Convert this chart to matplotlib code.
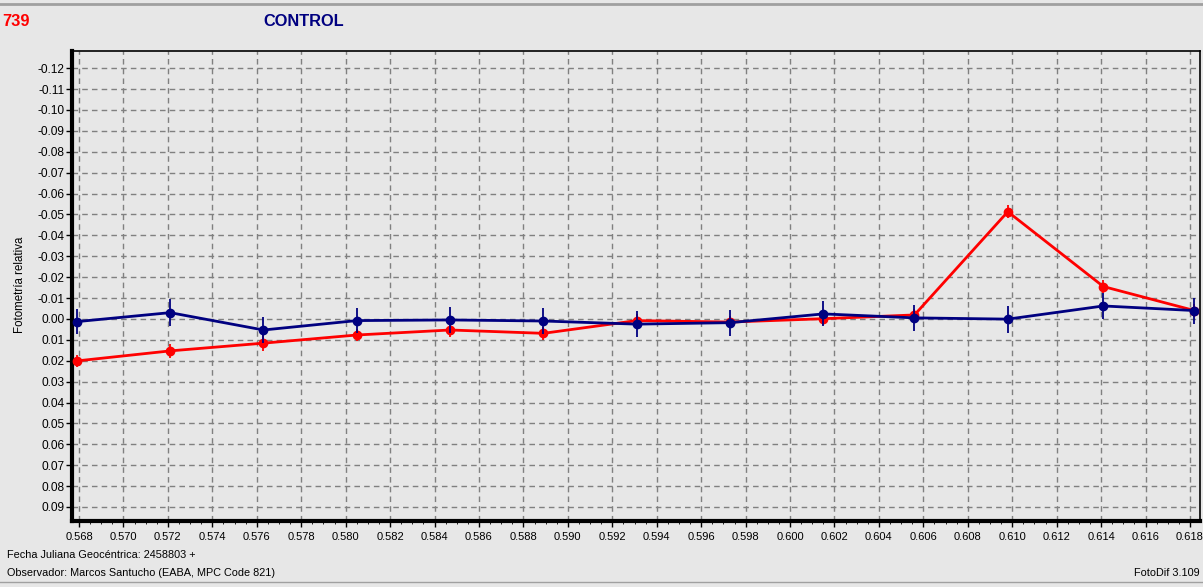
import matplotlib
matplotlib.use("Agg")
import matplotlib.pyplot as plt
from matplotlib.lines import Line2D
from matplotlib.ticker import MultipleLocator
import numpy as np

# fraction of day after JD 2458803
jd = [0.5679, 0.5721, 0.5763, 0.5805, 0.5847, 0.5889, 0.5931,
      0.5973, 0.6015, 0.6056, 0.6098, 0.6141, 0.6182]

# relative photometry (magnitudes, axis is inverted)
target = [0.0201, 0.0153, 0.0116, 0.0077, 0.0053, 0.0069, 0.0008,
          0.0015, -0.0001, -0.0019, -0.0513, -0.0155, -0.0040]
target_err = [0.0030, 0.0032, 0.0038, 0.0030, 0.0032, 0.0030, 0.0030,
              0.0030, 0.0030, 0.0030, 0.0032, 0.0029, 0.0030]

control = [0.0013, -0.0030, 0.0053, 0.0008, 0.0005, 0.0010, 0.0025,
           0.0018, -0.0024, -0.0005, 0.0001, -0.0062, -0.0040]
control_err = [0.0060, 0.0064, 0.0062, 0.0060, 0.0062, 0.0060, 0.0063,
               0.0062, 0.0060, 0.0062, 0.0065, 0.0062, 0.0062]

yticks = np.round(np.arange(-0.12, 0.091, 0.01), 2)
xticks = np.round(np.arange(0.568, 0.6181, 0.002), 3)

W, H = 1203, 587
bg = "#e7e7e7"
navy = "#000080"
red = "#ff0000"

fig = plt.figure(figsize=(W / 100, H / 100), dpi=100, facecolor=bg)
ax = fig.add_axes([71.7 / W, 1 - 521 / H, (1200 - 71.7) / W, (521 - 51) / H])
ax.set_facecolor(bg)

ax.errorbar(jd, target, yerr=target_err, color=red, lw=2, marker="o", ms=6,
            elinewidth=1.3, capsize=0, zorder=3)
ax.errorbar(jd, control, yerr=control_err, color=navy, lw=2, marker="o", ms=6,
            elinewidth=1.3, capsize=0, zorder=4)

ax.set_xlim(0.56767, 0.61845)
ax.set_ylim(0.0967, -0.1282)

ax.set_yticks(yticks)
ax.set_yticklabels(["%.2f" % abs(v) if v == 0 else "%.2f" % v for v in yticks],
                   fontsize=8.6, family="Liberation Sans")
ax.set_xticks(xticks)
ax.set_xticklabels(["%.3f" % v for v in xticks], fontsize=8,
                   family="Liberation Sans")
ax.xaxis.set_minor_locator(MultipleLocator(0.0005))
ax.tick_params(axis="y", which="major", length=4, width=1, direction="out", pad=1)
ax.tick_params(axis="x", which="major", length=4, width=1, direction="out", pad=4)
ax.tick_params(axis="x", which="minor", length=2, width=0.6, direction="out")

ax.grid(True, which="major", color="#808080", lw=1, linestyle=(0, (4, 3)))
ax.set_axisbelow(True)

for side, lw in [("left", 3), ("bottom", 3), ("top", 1.2), ("right", 1.2)]:
    ax.spines[side].set_linewidth(lw)
    ax.spines[side].set_color("black")

fig.text(20 / W, 1 - 285 / H, "Fotometría relativa", rotation=90,
         ha="center", va="center", fontsize=8.3, family="Liberation Sans")

fig.text(2 / W, 1 - 22 / H, "739", color=red, fontsize=11.8, weight="bold",
         ha="left", va="center", family="Liberation Sans")
fig.text(263 / W, 1 - 22 / H, "CONTROL", color=navy, fontsize=11.8,
         weight="bold", ha="left", va="center", family="Liberation Sans")

fig.text(7 / W, 1 - 555 / H, "Fecha Juliana Geocéntrica: 2458803 +",
         fontsize=7.8, ha="left", va="center", family="Liberation Sans")
fig.text(7 / W, 1 - 573 / H, "Observador: Marcos Santucho (EABA, MPC Code 821)",
         fontsize=7.8, ha="left", va="center", family="Liberation Sans")
fig.text(1200 / W, 1 - 573 / H, "FotoDif 3.109", fontsize=7.8, ha="right",
         va="center", family="Liberation Sans")

# window frame lines
fig.add_artist(Line2D([0, 1], [1 - 4 / H, 1 - 4 / H], color="#a0a0a0", lw=2))
fig.add_artist(Line2D([0, 1], [1 - 582 / H, 1 - 582 / H], color="#a0a0a0", lw=1))

fig.savefig("out.png", dpi=100, facecolor=bg)
